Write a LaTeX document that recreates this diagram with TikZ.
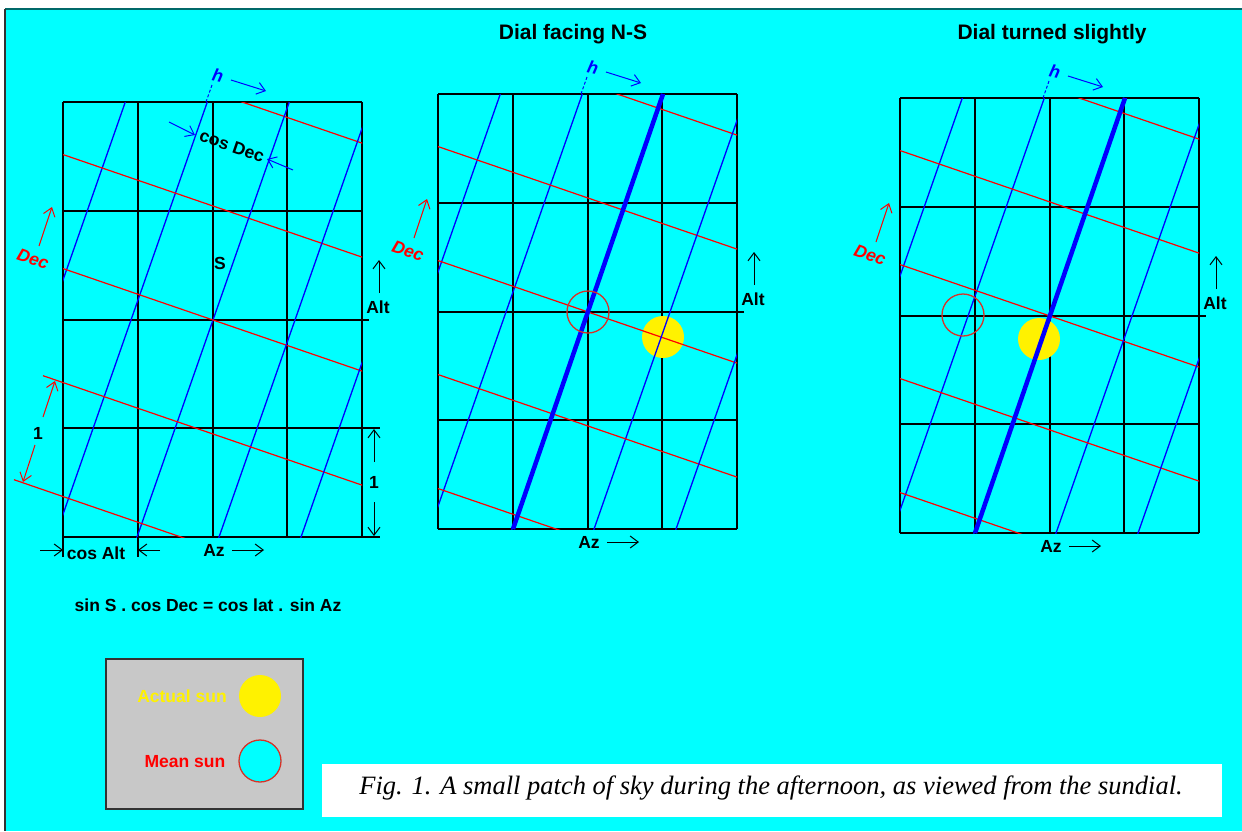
\documentclass[tikz,border=0pt]{standalone}
\usepackage{fontspec}
\setmainfont{Liberation Sans}
\newfontfamily\capfont{Liberation Serif}
\usetikzlibrary{arrows.meta}
\definecolor{sky}{RGB}{0,255,255}
\definecolor{panel}{RGB}{200,200,200}
\definecolor{meanred}{RGB}{215,50,40}
\definecolor{frametop}{RGB}{0,105,105}
\tikzstyle{lbl}=[font=\fontsize{17.5}{20}\selectfont\bfseries, inner sep=0]
\tikzstyle{ttl}=[font=\fontsize{21}{24}\selectfont\bfseries, inner sep=0]
\tikzstyle{gridln}=[line width=2pt, black]
\tikzstyle{hrln}=[line width=1.3pt, blue]
\tikzstyle{decln}=[line width=1.2pt, red]
\tikzstyle{barb}=[-{Straight Barb[length=8pt,width=12pt]}, line width=1pt]

\begin{document}
\begin{tikzpicture}[x=1pt,y=-1pt]
\useasboundingbox (0,0) rectangle (1242,831);
\fill[white] (0,0) rectangle (1242,831);
\fill[sky] (5,9) rectangle (1242,831);
\draw[line width=2pt, frametop] (5,9) -- (1242,9);
\draw[line width=1.5pt, black!80] (5,9) -- (5,831);
\node[ttl] (t2) at (573,34) {Dial facing N-S};
\node[ttl] (t3) at (1052,34) {Dial turned slightly};
\foreach \p/\ox/\oy in {1/63/102,2/438/94,3/900/98}{
\begin{scope}[shift={(\ox,\oy)}]
\foreach \gx in {0,75,150,224,299}{\draw[gridln] (\gx,0) -- (\gx,435);}
\foreach \gy in {0,109,218,326,435}{\draw[gridln] (0,\gy) -- (299,\gy);}
\draw[gridln] (299,218) -- (306,218);
\end{scope}}
\fill[yellow] (663,337) circle (21);
\fill[yellow] (1039,339) circle (21);
\foreach \p/\ox/\oy in {1/63/102,2/438/94,3/900/98}{
\begin{scope}[shift={(\ox,\oy)}]
\begin{scope}
\clip (0,0) rectangle (299,435);
\foreach \k in {-2,...,2}{\draw[hrln] ({150+82*\k-105},518) -- ++(210,-600);
 \draw[decln] (-250,{218+114*\k-137.2}) -- ++(800,274.4);}
\end{scope}
\draw[hrln, line width=1pt, dash pattern=on 3pt off 2pt] (143,0) -- (149,-17);
\node[lbl, blue, font=\fontsize{17.5}{20}\selectfont\bfseries\itshape, rotate=-12] (h\p) at (155,-27) {h};
\coordinate (ha\p) at (168,-22); \coordinate (hb\p) at (203,-11);
\draw[barb, blue] (ha\p) -- (hb\p);
\node[lbl, red, font=\fontsize{17.5}{20}\selectfont\bfseries\itshape, rotate=-19] (dec\p) at (-30,157) {Dec};
\coordinate (deca\p) at (-24,144); \coordinate (decb\p) at (-11,105);
\draw[barb, red] (deca\p) -- (decb\p);
\node[lbl] (alt\p) at (315,205) {Alt};
\coordinate (alta\p) at (316,191); \coordinate (altb\p) at (316,158);
\draw[barb] (alta\p) -- (altb\p);
\node[lbl] (az\p) at (151,448) {Az};
\coordinate (aza\p) at (169,448); \coordinate (azb\p) at (201,448);
\draw[barb] (aza\p) -- (azb\p);
\end{scope}}
\draw[hrln, line width=4.5pt] (438+75,94+435) -- (438+225,94);
\draw[hrln, line width=4.5pt] (900+75,98+435) -- (900+225,98);
\draw[meanred, line width=1.3pt] (588,312) circle (21);
\draw[meanred, line width=1.3pt] (963,315) circle (21);
\begin{scope}[shift={(63,102)}]
\draw[decln] (-20,273.7) -- (0,280.55);
\draw[decln] (-49,377.7) -- (0,394.55);
\draw[gridln] (299,326) -- (317,326);
\draw[gridln] (299,435) -- (317,435);
\draw[gridln] (0,435) -- (0,455);
\draw[gridln] (75,435) -- (75,455);
\node[lbl] (one1) at (-25,331) {1};
\coordinate (onea) at (-20,315); \coordinate (oneb) at (-8,279);
\coordinate (onec) at (-28,343); \coordinate (oned) at (-40,380);
\draw[barb, red] (onea) -- (oneb);
\draw[barb, red] (onec) -- (oned);
\node[lbl] (one2) at (311,380) {1};
\coordinate (onee) at (311,360); \coordinate (onef) at (311,327);
\coordinate (oneg) at (311,400); \coordinate (oneh) at (311,434);
\draw[barb] (onee) -- (onef);
\draw[barb] (oneg) -- (oneh);
\node[lbl] (cosalt) at (33,451) {cos Alt};
\coordinate (caa) at (-23,448); \coordinate (cab) at (0,448);
\coordinate (cac) at (97,448); \coordinate (cad) at (75,448);
\draw[barb] (caa) -- (cab);
\draw[barb] (cac) -- (cad);
\node[lbl, rotate=-19] (cosdec) at (169,44) {cos Dec};
\coordinate (cda) at (106,20); \coordinate (cdb) at (132,33);
\coordinate (cdc) at (230,68); \coordinate (cdd) at (204,57);
\draw[barb, blue] (cda) -- (cdb);
\draw[barb, blue] (cdc) -- (cdd);
\node[lbl] (s) at (157,161) {S};
\end{scope}
\node[lbl] (formula) at (208,605) {sin S . cos Dec = cos lat . sin Az};
\draw[draw=black!80, fill=panel, line width=1.5pt] (106,659) rectangle (303,809);
\node[lbl, yellow] (actual) at (182,696) {Actual sun};
\fill[yellow] (260,696) circle (21);
\node[lbl, red] (mean) at (185,762) {Mean sun};
\draw[draw=meanred, fill=sky, line width=1.3pt] (260,761) circle (21);
\fill[white] (322,764) rectangle (1222,817);
\node[inner sep=0, font=\capfont\itshape\fontsize{26.5}{30}\selectfont] (caption) at (771,788) {Fig. 1. A small patch of sky during the afternoon, as viewed from the sundial.};
\end{tikzpicture}
\end{document}
